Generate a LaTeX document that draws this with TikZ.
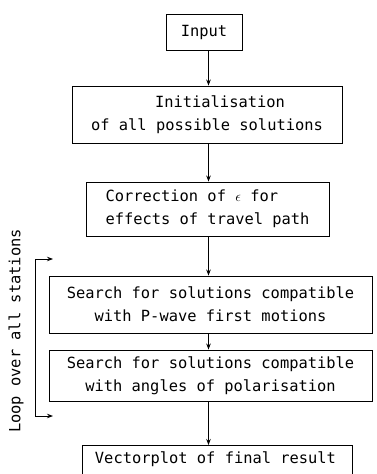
\documentclass[tikz,border=0pt]{standalone}
\usepackage{fontspec}
\setmonofont{DejaVu Sans Mono}
\usetikzlibrary{arrows.meta}
\begin{document}
\begin{tikzpicture}[x=1pt,y=-1pt,
  box/.style={draw,line width=0.9pt,inner sep=0pt,font=\ttfamily\fontsize{15.4}{23}\selectfont},
  arr/.style={line width=0.9pt,-{Stealth[length=6pt,width=4.5pt]}},
  larr/.style={line width=0.9pt,{Stealth[length=6pt,width=4.5pt]}-{Stealth[length=6pt,width=4.5pt]}}]
\useasboundingbox (0,0) rectangle (377,474);
\clip (0,0) rectangle (377,474);
\node[box,minimum width=76pt,minimum height=36pt] (in) at (204,32) {Input};
\node[box,minimum width=270pt,minimum height=57pt,align=center] (init) at (207,114.5) {\hspace*{26pt}Initialisation\\of all possible solutions};
\node[box,minimum width=243pt,minimum height=54pt,align=left] (corr) at (207.5,209) {Correction of {\normalfont$\epsilon$} for\\effects of travel path};
\node[box,minimum width=323pt,minimum height=57pt,align=center] (s1) at (210.5,304.5) {Search for solutions compatible\\with P-wave first motions};
\node[box,minimum width=323pt,minimum height=51pt,align=center] (s2) at (210.5,375.5) {Search for solutions compatible\\with angles of polarisation};
\node[box,minimum width=270pt,minimum height=58pt,anchor=north] (vec) at (217,445) {};
\node[font=\ttfamily\fontsize{15.4}{23}\selectfont] (vect) at (215.5,459) {Vectorplot of final result};
\coordinate (ax) at (208.5,0);
\draw[arr] (in.south -| ax) -- (init.north -| ax);
\draw[arr] (init.south -| ax) -- (corr.north -| ax);
\draw[arr] (corr.south -| ax) -- (s1.north -| ax);
\draw[arr] (s1.south -| ax) -- (s2.north -| ax);
\draw[arr] (s2.south -| ax) -- (vec.north -| ax);
\coordinate (bt) at (53,259);
\coordinate (bt0) at (35,259);
\coordinate (bb0) at (35,416);
\coordinate (bb) at (53,416);
\draw[larr] (bt) -- (bt0) -- (bb0) -- (bb);
\node[rotate=90,font=\ttfamily\fontsize{15.4}{23}\selectfont] (loop) at (16,331) {Loop over all stations};
\end{tikzpicture}
\end{document}
